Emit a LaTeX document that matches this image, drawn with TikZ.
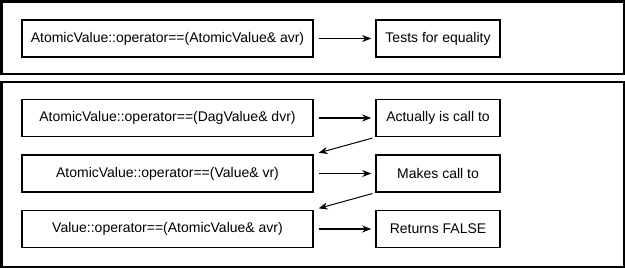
\documentclass[tikz,border=0pt]{standalone}
\usepackage{fontspec}
\setmainfont{Liberation Sans}
\usetikzlibrary{arrows.meta}

\begin{document}
\begin{tikzpicture}[x=1pt, y=-1pt,
    funcbox/.style={draw, line width=1.6pt, minimum width=291pt, minimum height=37pt,
        inner sep=0pt, font=\fontsize{14}{16}\selectfont},
    notebox/.style={draw, line width=1.6pt, minimum width=124pt, minimum height=37pt,
        inner sep=0pt, font=\fontsize{14}{16}\selectfont},
    callarrow/.style={-{Stealth[length=9pt, width=7pt]}, line width=1.4pt,
        shorten <=5pt, shorten >=4pt},
    frame/.style={line width=2.5pt}]
\useasboundingbox (0,0) rectangle (625,268);

% Marco superior
\draw[frame] (1.25,1.25) rectangle (623.75,74);
\node[funcbox] (eqAtomic) at (167.5,38.5) {AtomicValue::operator==(AtomicValue\& avr)};
\node[notebox] (eqTests) at (438,38.5) {Tests for equality};
\draw[callarrow] (eqAtomic) -- (eqTests);

% Marco inferior
\draw[frame] (1.25,82) rectangle (623.75,266.75);
\node[funcbox] (eqDag) at (167.5,118) {AtomicValue::operator==(DagValue\& dvr)};
\node[notebox] (noteCall) at (438,118) {Actually is call to};
\node[funcbox] (eqValue) at (167.5,173.5) {AtomicValue::operator==(Value\& vr)};
\node[notebox] (noteMakes) at (438,173.5) {Makes call to};
\node[funcbox] (eqBase) at (167.5,229) {Value::operator==(AtomicValue\& avr)};
\node[notebox] (noteFalse) at (438,229) {Returns FALSE};

\draw[callarrow] (eqDag) -- (noteCall);
\draw[callarrow] (eqValue) -- (noteMakes);
\draw[callarrow] (eqBase) -- (noteFalse);
\draw[callarrow, line width=1pt, shorten <=3pt, shorten >=5pt] (noteCall.south west) -- (eqValue.north east);
\draw[callarrow, line width=1pt, shorten <=3pt, shorten >=5pt] (noteMakes.south west) -- (eqBase.north east);

\end{tikzpicture}
\end{document}
